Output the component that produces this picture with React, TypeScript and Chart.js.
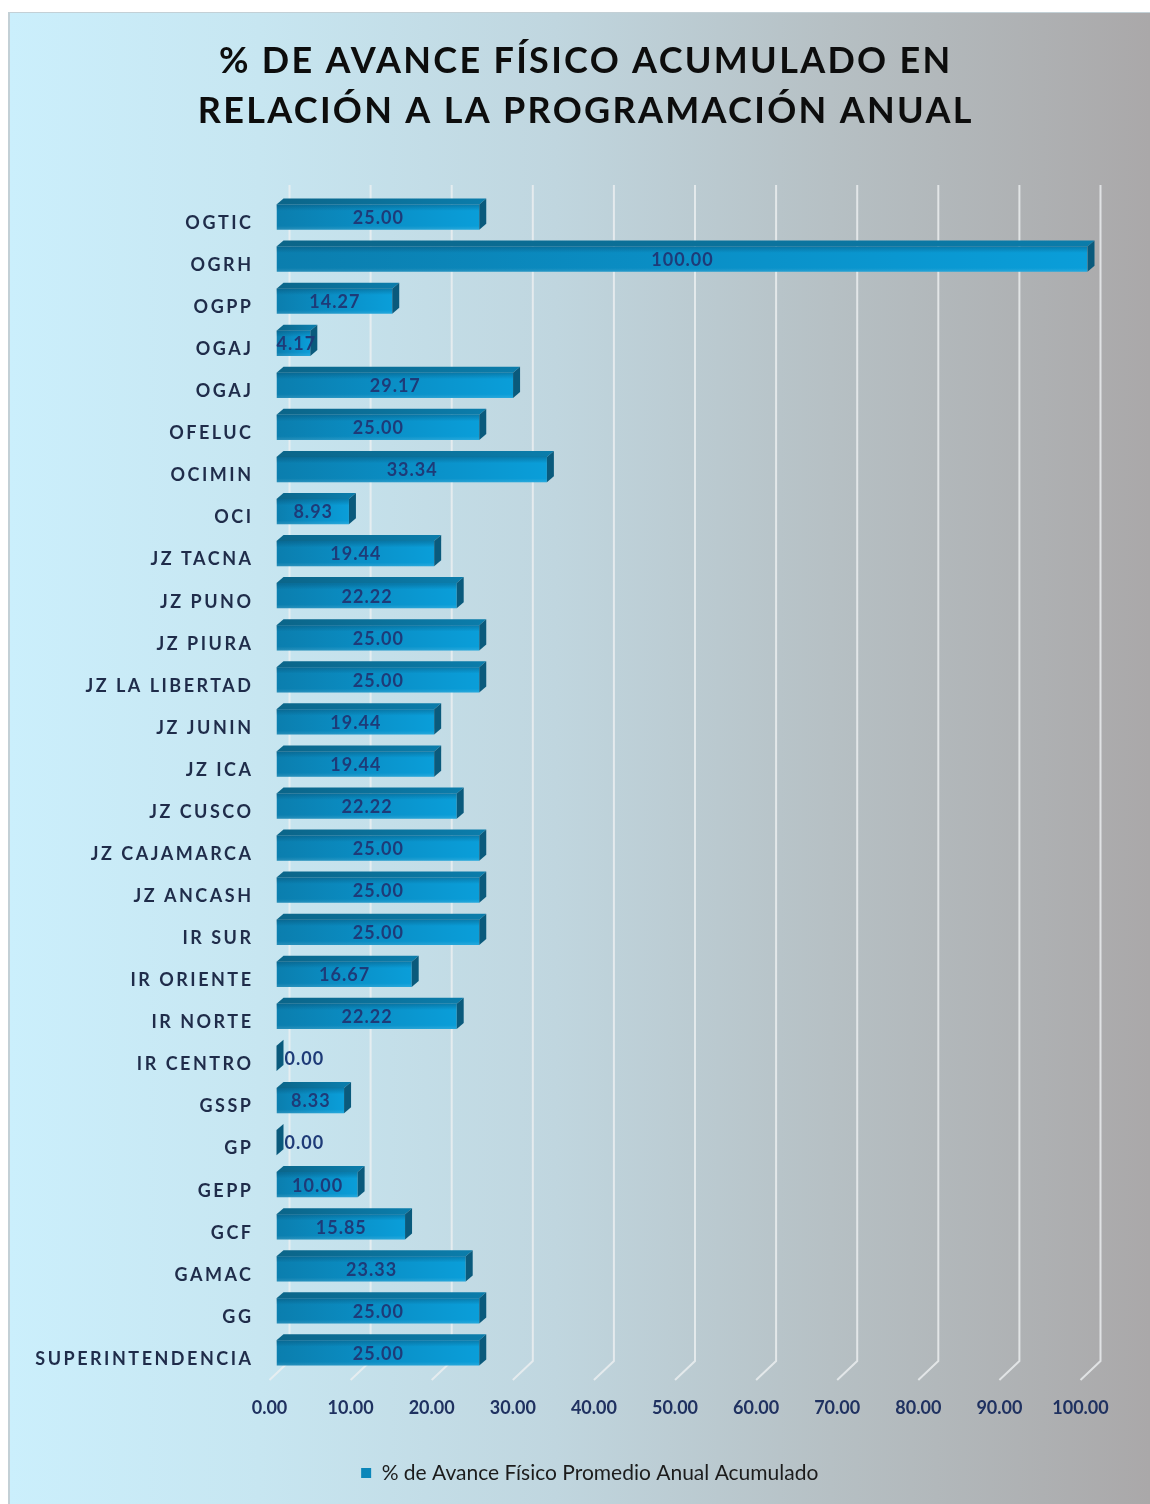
import React, { useEffect, useRef } from 'react';
import { Chart, registerables } from 'chart.js';

Chart.register(...registerables);

const categories = [
  'OGTIC', 'OGRH', 'OGPP', 'OGAJ', 'OGAJ', 'OFELUC', 'OCIMIN', 'OCI',
  'JZ TACNA', 'JZ PUNO', 'JZ PIURA', 'JZ LA LIBERTAD', 'JZ JUNIN', 'JZ ICA',
  'JZ CUSCO', 'JZ CAJAMARCA', 'JZ ANCASH', 'IR SUR', 'IR ORIENTE', 'IR NORTE',
  'IR CENTRO', 'GSSP', 'GP', 'GEPP', 'GCF', 'GAMAC', 'GG', 'SUPERINTENDENCIA',
];
const values = [
  25.0, 100.0, 14.27, 4.17, 29.17, 25.0, 33.34, 8.93,
  19.44, 22.22, 25.0, 25.0, 19.44, 19.44,
  22.22, 25.0, 25.0, 25.0, 16.67, 22.22,
  0.0, 8.33, 0.0, 10.0, 15.85, 23.33, 25.0, 25.0,
];
const xMin = 0;
const xMax = 100;
const xStep = 10;
const titleLines = ['% DE AVANCE FÍSICO ACUMULADO EN', 'RELACIÓN A LA PROGRAMACIÓN ANUAL'];
const seriesName = '% de Avance Físico Promedio Anual Acumulado';

const FONT = "Lato, 'Open Sans', 'Liberation Sans', sans-serif";
const DX = 7;
const DY = 6;

const letterSpacingPlugin = {
  id: 'letterSpacing',
  beforeDraw(chart: any) {
    const y = chart.scales.y;
    if (y && !y.__ls) {
      const orig = y.drawLabels.bind(y);
      y.drawLabels = (area: any) => {
        const c = chart.ctx;
        c.save();
        (c as any).letterSpacing = '2.5px';
        orig(area);
        c.restore();
      };
      y.__ls = true;
    }
    const t = chart.titleBlock;
    if (t && !t.__ls) {
      const origT = t.draw.bind(t);
      t.draw = (...args: any[]) => {
        const c = chart.ctx;
        c.save();
        c.translate(38, 0);
        (c as any).letterSpacing = '2.3px';
        origT(...args);
        c.restore();
      };
      t.__ls = true;
    }
    const l = chart.legend;
    if (l && !l.__ls) {
      const origL = l.draw.bind(l);
      l.draw = (...args: any[]) => {
        const c = chart.ctx;
        c.save();
        c.translate(42, 0);
        origL(...args);
        c.restore();
      };
      l.__ls = true;
    }
  },
};

const bar3dPlugin = {
  id: 'bar3d',
  beforeDatasetsDraw(chart: any) {
    const { ctx, chartArea: area } = chart;
    const xs = chart.scales.x;
    ctx.save();
    ctx.strokeStyle = 'rgba(238,240,241,0.8)';
    ctx.lineWidth = 2;
    for (let v = xMin; v <= xMax; v += xStep) {
      const xf = xs.getPixelForValue(v) - 7;
      const xb = xf + 20;
      ctx.beginPath();
      ctx.moveTo(xb, area.top - 11);
      ctx.lineTo(xb, area.bottom - 13);
      ctx.lineTo(xf, area.bottom + 6);
      ctx.stroke();
    }
    ctx.restore();
  },
  afterDatasetsDraw(chart: any) {
    const ctx = chart.ctx;
    const meta = chart.getDatasetMeta(0);
    ctx.save();
    meta.data.forEach((el: any, i: number) => {
      const { x, y, base, height } = el.getProps(['x', 'y', 'base', 'height'], true);
      const top = y - height / 2;
      const bottom = y + height / 2;
      // top face
      const gt = ctx.createLinearGradient(base, 0, Math.max(x, base + 1), 0);
      gt.addColorStop(0, '#0b6589');
      gt.addColorStop(1, '#0b7caa');
      ctx.fillStyle = gt;
      ctx.beginPath();
      ctx.moveTo(base, top);
      ctx.lineTo(base + DX, top - DY);
      ctx.lineTo(x + DX, top - DY);
      ctx.lineTo(x, top);
      ctx.closePath();
      ctx.fill();
      // side face
      ctx.fillStyle = '#0a5a7c';
      ctx.beginPath();
      ctx.moveTo(x, top);
      ctx.lineTo(x + DX, top - DY);
      ctx.lineTo(x + DX, bottom - DY);
      ctx.lineTo(x, bottom);
      ctx.closePath();
      ctx.fill();
      // subtle darker band under the top edge of the front face
      if (x - base > 1) {
        const gv = ctx.createLinearGradient(0, top, 0, bottom);
        gv.addColorStop(0, 'rgba(5,60,90,0.35)');
        gv.addColorStop(0.25, 'rgba(5,60,90,0)');
        gv.addColorStop(0.85, 'rgba(255,255,255,0)');
        gv.addColorStop(1, 'rgba(255,255,255,0.12)');
        ctx.fillStyle = gv;
        ctx.fillRect(base, top, x - base, bottom - top);
      }
      // value label
      const v = values[i];
      ctx.font = `bold 18px ${FONT}`;
      (ctx as any).letterSpacing = '1px';
      ctx.fillStyle = '#1e3b78';
      ctx.textBaseline = 'middle';
      if (x - base > 40) {
        ctx.textAlign = 'center';
        ctx.fillText(v.toFixed(2), (base + x) / 2 + 0.5, y + 1);
      } else if (v > 0) {
        ctx.textAlign = 'center';
        ctx.fillText(v.toFixed(2), (base + x) / 2 + 3, y + 1);
      } else {
        ctx.textAlign = 'left';
        ctx.fillText(v.toFixed(2), x + DX + 1, y + 1);
      }
    });
    ctx.restore();
  },
};

export default function App() {
  const ref = useRef<HTMLCanvasElement | null>(null);

  useEffect(() => {
    if (!ref.current) return;
    const chart = new Chart(ref.current, {
      type: 'bar',
      data: {
        labels: categories,
        datasets: [
          {
            label: seriesName,
            data: values,
            categoryPercentage: 1,
            barPercentage: 0.6,
            borderWidth: 0,
            backgroundColor: (c: any) => {
              if (c.type !== 'data') return '#0f8fc2';
              const ch = c.chart;
              if (!ch.chartArea) return '#0b8abd';
              const xs = ch.scales.x;
              const x0 = xs.getPixelForValue(0);
              const x1 = xs.getPixelForValue(values[c.dataIndex]);
              if (x1 - x0 < 1) return '#0b7aa6';
              const g = ch.ctx.createLinearGradient(x0, 0, x1, 0);
              g.addColorStop(0, '#0b7eae');
              g.addColorStop(0.5, '#0a8fc6');
              g.addColorStop(1, '#0a9ed9');
              return g;
            },
          },
        ],
      },
      options: {
        indexAxis: 'y',
        responsive: true,
        maintainAspectRatio: false,
        animation: false,
        layout: { padding: { left: 0, right: 62.5, top: 0, bottom: 10.5 } },
        scales: {
          x: {
            min: xMin,
            max: xMax,
            grid: { display: false },
            border: { display: false },
            ticks: {
              stepSize: xStep,
              autoSkip: false,
              maxRotation: 0,
              labelOffset: -7,
              padding: 15,
              color: '#1f3160',
              font: { family: FONT, size: 18, weight: 'bold' },
              callback: (v: any) => Number(v).toFixed(2),
            },
            afterFit: (s: any) => {
              s.height = 78.5;
            },
          },
          y: {
            grid: { display: false },
            border: { display: false },
            ticks: {
              autoSkip: false,
              padding: 15,
              labelOffset: 6,
              color: '#1f2c4a',
              font: { family: FONT, size: 18, weight: 'bold' },
            },
            afterFit: (s: any) => {
              s.width = 268.5;
            },
          },
        },
        plugins: {
          title: {
            display: true,
            text: titleLines,
            color: '#0d0d0d',
            font: { family: FONT, size: 36, weight: 'bold', lineHeight: 1.39 },
            padding: { top: 24, bottom: 60 },
          },
          legend: {
            display: true,
            position: 'bottom',
            labels: {
              boxWidth: 10,
              boxHeight: 10,
              padding: 10,
              color: '#1c1c1c',
              font: { family: FONT, size: 21 },
            },
          },
          tooltip: { enabled: false },
        },
      },
      plugins: [letterSpacingPlugin, bar3dPlugin],
    } as any);
    return () => chart.destroy();
  }, []);

  return (
    <div
      style={{
        position: 'fixed',
        left: 8,
        top: 12,
        width: 1142,
        height: 1492,
        background:
          'linear-gradient(to right, #cbeffc 0%, #c7e6f1 22%, #c0d6df 48%, #b6c0c4 72%, #aaa8a9 100%)',
        boxShadow: 'inset 2px 1px 0 #c3d0d6',
      }}
    >
      <div style={{ position: 'relative', width: 1142, height: 1492 }}>
        <canvas ref={ref} />
      </div>
    </div>
  );
}
